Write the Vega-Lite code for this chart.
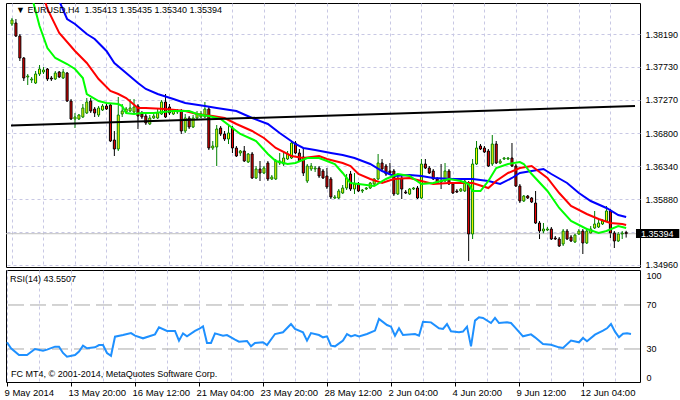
{
  "$schema": "https://vega.github.io/schema/vega-lite/v6.json",
  "padding": {"left": 2, "top": 2, "right": 0, "bottom": 0},
  "background": "white",
  "bounds": "flush",
  "spacing": 3,
  "config": {
    "font": "Liberation Sans",
    "view": {"stroke": "#000000", "strokeWidth": 1},
    "axis": {"labelFont": "Liberation Sans", "labelFontSize": 9, "labelColor": "#000000", "tickColor": "#000000", "domain": false, "gridColor": "#c8c8e4", "gridDash": [3, 3], "gridWidth": 1, "labelOverlap": false, "labelFlush": false, "labelBound": false},
    "text": {"font": "Liberation Sans", "fontSize": 9}
  },
  "datasets": {
    "bars": [
      {"i":0,"o":1.3833,"h":1.38414,"l":1.38302,"c":1.38386},
      {"i":1,"o":1.38344,"h":1.384,"l":1.38148,"c":1.38162},
      {"i":2,"o":1.38162,"h":1.3819,"l":1.37812,"c":1.37854},
      {"i":3,"o":1.37854,"h":1.37868,"l":1.37532,"c":1.37574},
      {"i":4,"o":1.37588,"h":1.3763,"l":1.37476,"c":1.37602},
      {"i":5,"o":1.37546,"h":1.37588,"l":1.37504,"c":1.3756},
      {"i":6,"o":1.37504,"h":1.37672,"l":1.3749,"c":1.3763},
      {"i":7,"o":1.3763,"h":1.37756,"l":1.37602,"c":1.377},
      {"i":8,"o":1.37658,"h":1.37728,"l":1.3763,"c":1.37686},
      {"i":9,"o":1.377,"h":1.37714,"l":1.37532,"c":1.3756},
      {"i":10,"o":1.37574,"h":1.37602,"l":1.37532,"c":1.3756},
      {"i":11,"o":1.3756,"h":1.37672,"l":1.37546,"c":1.37644},
      {"i":12,"o":1.37658,"h":1.37672,"l":1.37574,"c":1.37588},
      {"i":13,"o":1.37574,"h":1.377,"l":1.3756,"c":1.37658},
      {"i":14,"o":1.37644,"h":1.37658,"l":1.37238,"c":1.37252},
      {"i":15,"o":1.37252,"h":1.3728,"l":1.36986,"c":1.37},
      {"i":16,"o":1.37,"h":1.37084,"l":1.36874,"c":1.37028},
      {"i":17,"o":1.37,"h":1.3707,"l":1.36986,"c":1.37056},
      {"i":18,"o":1.37028,"h":1.3721,"l":1.37014,"c":1.37154},
      {"i":19,"o":1.37084,"h":1.37294,"l":1.3707,"c":1.37238},
      {"i":20,"o":1.37252,"h":1.37294,"l":1.37084,"c":1.37112},
      {"i":21,"o":1.3714,"h":1.37168,"l":1.37028,"c":1.37084},
      {"i":22,"o":1.37056,"h":1.37182,"l":1.37028,"c":1.37154},
      {"i":23,"o":1.37126,"h":1.3721,"l":1.37112,"c":1.37182},
      {"i":24,"o":1.37182,"h":1.3721,"l":1.37126,"c":1.3714},
      {"i":25,"o":1.37196,"h":1.37224,"l":1.36678,"c":1.36692},
      {"i":26,"o":1.36706,"h":1.36832,"l":1.36482,"c":1.3658},
      {"i":27,"o":1.3658,"h":1.37308,"l":1.36552,"c":1.37056},
      {"i":28,"o":1.3707,"h":1.3721,"l":1.37028,"c":1.37112},
      {"i":29,"o":1.37098,"h":1.37168,"l":1.37084,"c":1.3714},
      {"i":30,"o":1.37112,"h":1.3728,"l":1.37098,"c":1.37154},
      {"i":31,"o":1.37098,"h":1.3728,"l":1.37084,"c":1.37168},
      {"i":32,"o":1.37182,"h":1.3721,"l":1.3686,"c":1.37042},
      {"i":33,"o":1.3707,"h":1.37112,"l":1.37,"c":1.37028},
      {"i":34,"o":1.37042,"h":1.37084,"l":1.36916,"c":1.36944},
      {"i":35,"o":1.3693,"h":1.37056,"l":1.36916,"c":1.37014},
      {"i":36,"o":1.37014,"h":1.37084,"l":1.37,"c":1.37042},
      {"i":37,"o":1.37014,"h":1.3714,"l":1.37,"c":1.37084},
      {"i":38,"o":1.3707,"h":1.37266,"l":1.37056,"c":1.37238},
      {"i":39,"o":1.37238,"h":1.3735,"l":1.37014,"c":1.37028},
      {"i":40,"o":1.37168,"h":1.3721,"l":1.37056,"c":1.37084},
      {"i":41,"o":1.3707,"h":1.3714,"l":1.37056,"c":1.37112},
      {"i":42,"o":1.37098,"h":1.3714,"l":1.3707,"c":1.37112},
      {"i":43,"o":1.37112,"h":1.3714,"l":1.3679,"c":1.36832},
      {"i":44,"o":1.36832,"h":1.3707,"l":1.36804,"c":1.37014},
      {"i":45,"o":1.37014,"h":1.37042,"l":1.3686,"c":1.36888},
      {"i":46,"o":1.36888,"h":1.37056,"l":1.36874,"c":1.37014},
      {"i":47,"o":1.37014,"h":1.37112,"l":1.37,"c":1.3707},
      {"i":48,"o":1.37028,"h":1.37112,"l":1.37014,"c":1.3707},
      {"i":49,"o":1.37028,"h":1.37238,"l":1.37014,"c":1.3714},
      {"i":50,"o":1.3714,"h":1.37168,"l":1.36566,"c":1.36594},
      {"i":51,"o":1.36594,"h":1.36692,"l":1.36566,"c":1.36622},
      {"i":52,"o":1.36608,"h":1.36916,"l":1.36342,"c":1.3686},
      {"i":53,"o":1.36874,"h":1.36902,"l":1.36762,"c":1.3679},
      {"i":54,"o":1.3679,"h":1.36832,"l":1.36692,"c":1.3672},
      {"i":55,"o":1.3672,"h":1.36902,"l":1.3665,"c":1.36804},
      {"i":56,"o":1.36874,"h":1.36902,"l":1.36524,"c":1.36594},
      {"i":57,"o":1.36594,"h":1.36622,"l":1.36468,"c":1.36482},
      {"i":58,"o":1.36524,"h":1.36566,"l":1.36482,"c":1.36552},
      {"i":59,"o":1.36552,"h":1.36622,"l":1.36398,"c":1.36412},
      {"i":60,"o":1.36398,"h":1.36524,"l":1.36384,"c":1.3651},
      {"i":61,"o":1.3651,"h":1.36538,"l":1.3616,"c":1.36174},
      {"i":62,"o":1.36174,"h":1.36342,"l":1.3616,"c":1.363},
      {"i":63,"o":1.363,"h":1.36412,"l":1.36132,"c":1.36244},
      {"i":64,"o":1.36244,"h":1.36342,"l":1.3623,"c":1.36314},
      {"i":65,"o":1.36384,"h":1.36412,"l":1.36132,"c":1.3616},
      {"i":66,"o":1.3616,"h":1.36216,"l":1.36146,"c":1.36188},
      {"i":67,"o":1.3616,"h":1.3644,"l":1.36146,"c":1.36412},
      {"i":68,"o":1.36384,"h":1.36524,"l":1.36356,"c":1.36412},
      {"i":69,"o":1.3637,"h":1.36552,"l":1.36342,"c":1.36454},
      {"i":70,"o":1.3644,"h":1.36552,"l":1.36426,"c":1.3651},
      {"i":71,"o":1.36454,"h":1.36692,"l":1.3644,"c":1.36664},
      {"i":72,"o":1.36664,"h":1.36692,"l":1.3651,"c":1.36524},
      {"i":73,"o":1.36524,"h":1.3658,"l":1.36398,"c":1.36412},
      {"i":74,"o":1.36468,"h":1.36594,"l":1.36202,"c":1.36244},
      {"i":75,"o":1.36132,"h":1.3637,"l":1.36104,"c":1.36342},
      {"i":76,"o":1.363,"h":1.36384,"l":1.36272,"c":1.36342},
      {"i":77,"o":1.363,"h":1.36342,"l":1.36258,"c":1.36314},
      {"i":78,"o":1.36314,"h":1.36342,"l":1.36174,"c":1.36202},
      {"i":79,"o":1.36272,"h":1.363,"l":1.3616,"c":1.36174},
      {"i":80,"o":1.36202,"h":1.36314,"l":1.3602,"c":1.36048},
      {"i":81,"o":1.3616,"h":1.36188,"l":1.3588,"c":1.35908},
      {"i":82,"o":1.35894,"h":1.35936,"l":1.3588,"c":1.35908},
      {"i":83,"o":1.35894,"h":1.3602,"l":1.3588,"c":1.35992},
      {"i":84,"o":1.35964,"h":1.36076,"l":1.3595,"c":1.36034},
      {"i":85,"o":1.36034,"h":1.3623,"l":1.36006,"c":1.36174},
      {"i":86,"o":1.3623,"h":1.36272,"l":1.35992,"c":1.3602},
      {"i":87,"o":1.3602,"h":1.36244,"l":1.3595,"c":1.3609},
      {"i":88,"o":1.3609,"h":1.36118,"l":1.35978,"c":1.35992},
      {"i":89,"o":1.35992,"h":1.3602,"l":1.35964,"c":1.36006},
      {"i":90,"o":1.3602,"h":1.36048,"l":1.36006,"c":1.36034},
      {"i":91,"o":1.36034,"h":1.36118,"l":1.3602,"c":1.36104},
      {"i":92,"o":1.3609,"h":1.36174,"l":1.36076,"c":1.3616},
      {"i":93,"o":1.3616,"h":1.3651,"l":1.36146,"c":1.36384},
      {"i":94,"o":1.36384,"h":1.3644,"l":1.36286,"c":1.363},
      {"i":95,"o":1.36342,"h":1.3637,"l":1.36202,"c":1.3623},
      {"i":96,"o":1.36272,"h":1.36384,"l":1.36216,"c":1.36244},
      {"i":97,"o":1.36272,"h":1.363,"l":1.35922,"c":1.3595},
      {"i":98,"o":1.3595,"h":1.36202,"l":1.35936,"c":1.36174},
      {"i":99,"o":1.36174,"h":1.36202,"l":1.3588,"c":1.3602},
      {"i":100,"o":1.35978,"h":1.36006,"l":1.3595,"c":1.35964},
      {"i":101,"o":1.3595,"h":1.36034,"l":1.35936,"c":1.3602},
      {"i":102,"o":1.3602,"h":1.36048,"l":1.36006,"c":1.36034},
      {"i":103,"o":1.36034,"h":1.36062,"l":1.3588,"c":1.35894},
      {"i":104,"o":1.35894,"h":1.3644,"l":1.3588,"c":1.3637},
      {"i":105,"o":1.3637,"h":1.3644,"l":1.363,"c":1.36314},
      {"i":106,"o":1.36314,"h":1.36342,"l":1.3623,"c":1.36244},
      {"i":107,"o":1.36272,"h":1.363,"l":1.36146,"c":1.3616},
      {"i":108,"o":1.3616,"h":1.36188,"l":1.3609,"c":1.36104},
      {"i":109,"o":1.36132,"h":1.3637,"l":1.3602,"c":1.36118},
      {"i":110,"o":1.36132,"h":1.36384,"l":1.36118,"c":1.36272},
      {"i":111,"o":1.36272,"h":1.363,"l":1.36076,"c":1.3609},
      {"i":112,"o":1.3609,"h":1.36118,"l":1.3595,"c":1.35964},
      {"i":113,"o":1.35992,"h":1.3602,"l":1.35964,"c":1.35978},
      {"i":114,"o":1.35992,"h":1.36034,"l":1.35978,"c":1.3602},
      {"i":115,"o":1.35992,"h":1.36146,"l":1.35978,"c":1.36132},
      {"i":116,"o":1.36104,"h":1.36132,"l":1.35012,"c":1.3539},
      {"i":117,"o":1.3539,"h":1.3644,"l":1.3532,"c":1.3637},
      {"i":118,"o":1.3637,"h":1.36692,"l":1.36356,"c":1.36594},
      {"i":119,"o":1.36622,"h":1.3665,"l":1.36566,"c":1.3658},
      {"i":120,"o":1.36594,"h":1.36622,"l":1.36524,"c":1.36538},
      {"i":121,"o":1.36552,"h":1.3658,"l":1.36328,"c":1.36342},
      {"i":122,"o":1.3637,"h":1.36776,"l":1.36342,"c":1.3665},
      {"i":123,"o":1.3665,"h":1.36692,"l":1.3637,"c":1.36384},
      {"i":124,"o":1.36384,"h":1.3644,"l":1.3637,"c":1.36412},
      {"i":125,"o":1.3644,"h":1.36468,"l":1.36426,"c":1.36454},
      {"i":126,"o":1.3644,"h":1.36468,"l":1.36426,"c":1.36454},
      {"i":127,"o":1.36454,"h":1.36664,"l":1.36328,"c":1.36342},
      {"i":128,"o":1.36342,"h":1.3637,"l":1.36048,"c":1.36062},
      {"i":129,"o":1.36062,"h":1.3609,"l":1.35824,"c":1.35852},
      {"i":130,"o":1.35852,"h":1.35936,"l":1.35838,"c":1.35922},
      {"i":131,"o":1.35922,"h":1.35936,"l":1.3588,"c":1.35894},
      {"i":132,"o":1.35894,"h":1.35908,"l":1.35824,"c":1.35838},
      {"i":133,"o":1.35824,"h":1.35992,"l":1.3553,"c":1.35544},
      {"i":134,"o":1.35544,"h":1.35572,"l":1.3532,"c":1.35432},
      {"i":135,"o":1.35432,"h":1.35544,"l":1.3539,"c":1.3546},
      {"i":136,"o":1.35446,"h":1.35488,"l":1.35432,"c":1.3546},
      {"i":137,"o":1.3546,"h":1.35488,"l":1.35306,"c":1.3532},
      {"i":138,"o":1.35334,"h":1.35362,"l":1.35306,"c":1.3532},
      {"i":139,"o":1.3532,"h":1.35348,"l":1.35208,"c":1.35222},
      {"i":140,"o":1.3525,"h":1.3546,"l":1.35222,"c":1.35432},
      {"i":141,"o":1.35432,"h":1.3546,"l":1.35306,"c":1.3532},
      {"i":142,"o":1.35348,"h":1.35376,"l":1.35278,"c":1.35292},
      {"i":143,"o":1.35278,"h":1.35404,"l":1.35264,"c":1.35376},
      {"i":144,"o":1.3539,"h":1.3546,"l":1.35376,"c":1.35432},
      {"i":145,"o":1.35432,"h":1.3546,"l":1.3511,"c":1.35264},
      {"i":146,"o":1.35264,"h":1.35474,"l":1.3525,"c":1.35432},
      {"i":147,"o":1.35404,"h":1.35502,"l":1.3539,"c":1.3546},
      {"i":148,"o":1.35474,"h":1.35712,"l":1.3546,"c":1.3553},
      {"i":149,"o":1.35488,"h":1.356,"l":1.35474,"c":1.35544},
      {"i":150,"o":1.3553,"h":1.356,"l":1.35516,"c":1.35572},
      {"i":151,"o":1.35572,"h":1.35782,"l":1.35558,"c":1.35712},
      {"i":152,"o":1.35712,"h":1.3574,"l":1.35334,"c":1.35404},
      {"i":153,"o":1.35404,"h":1.35432,"l":1.35194,"c":1.35292},
      {"i":154,"o":1.35292,"h":1.35418,"l":1.35278,"c":1.3539},
      {"i":155,"o":1.3539,"h":1.35432,"l":1.3532,"c":1.35404},
      {"i":156,"o":1.35413,"h":1.35435,"l":1.3534,"c":1.35394}
    ],
    "ma": [
      {"m":"b","i":11,"v":1.38792},{"m":"b","i":12,"v":1.38652},{"m":"b","i":14,"v":1.384},{"m":"b","i":16,"v":1.3833},{"m":"b","i":19,"v":1.3819},{"m":"b","i":21,"v":1.3812},{"m":"b","i":24,"v":1.37952},{"m":"b","i":26,"v":1.37784},{"m":"b","i":29,"v":1.37644},{"m":"b","i":32,"v":1.37504},{"m":"b","i":34,"v":1.3742},{"m":"b","i":37,"v":1.3735},{"m":"b","i":41,"v":1.3728},{"m":"b","i":44,"v":1.37224},{"m":"b","i":49,"v":1.37182},{"m":"b","i":52,"v":1.37154},{"m":"b","i":57,"v":1.37112},{"m":"b","i":61,"v":1.37014},{"m":"b","i":65,"v":1.3693},{"m":"b","i":68,"v":1.36804},{"m":"b","i":72,"v":1.3665},{"m":"b","i":74,"v":1.36594},{"m":"b","i":77,"v":1.36566},{"m":"b","i":81,"v":1.36524},{"m":"b","i":84,"v":1.36496},{"m":"b","i":87,"v":1.36454},{"m":"b","i":91,"v":1.3637},{"m":"b","i":94,"v":1.36272},{"m":"b","i":97,"v":1.36202},{"m":"b","i":101,"v":1.36216},{"m":"b","i":104,"v":1.36202},{"m":"b","i":107,"v":1.36174},{"m":"b","i":112,"v":1.3616},{"m":"b","i":117,"v":1.3616},{"m":"b","i":121,"v":1.36132},{"m":"b","i":124,"v":1.3609},{"m":"b","i":127,"v":1.36174},{"m":"b","i":129,"v":1.36244},{"m":"b","i":132,"v":1.36272},{"m":"b","i":135,"v":1.363},{"m":"b","i":137,"v":1.3623},{"m":"b","i":141,"v":1.36104},{"m":"b","i":144,"v":1.35964},{"m":"b","i":147,"v":1.35852},{"m":"b","i":151,"v":1.35754},{"m":"b","i":154,"v":1.35656},{"m":"b","i":156,"v":1.35628},
      {"m":"r","i":8,"v":1.38722},{"m":"r","i":9,"v":1.3854},{"m":"r","i":12,"v":1.38204},{"m":"r","i":16,"v":1.37952},{"m":"r","i":19,"v":1.37784},{"m":"r","i":22,"v":1.3756},{"m":"r","i":25,"v":1.37392},{"m":"r","i":27,"v":1.3735},{"m":"r","i":29,"v":1.37294},{"m":"r","i":32,"v":1.37154},{"m":"r","i":34,"v":1.37154},{"m":"r","i":39,"v":1.3714},{"m":"r","i":44,"v":1.37112},{"m":"r","i":47,"v":1.3707},{"m":"r","i":51,"v":1.37042},{"m":"r","i":54,"v":1.37014},{"m":"r","i":57,"v":1.3693},{"m":"r","i":61,"v":1.36832},{"m":"r","i":64,"v":1.36734},{"m":"r","i":67,"v":1.36594},{"m":"r","i":71,"v":1.36482},{"m":"r","i":74,"v":1.36454},{"m":"r","i":78,"v":1.36482},{"m":"r","i":80,"v":1.3644},{"m":"r","i":82,"v":1.36412},{"m":"r","i":84,"v":1.36384},{"m":"r","i":86,"v":1.36342},{"m":"r","i":88,"v":1.3623},{"m":"r","i":91,"v":1.3616},{"m":"r","i":94,"v":1.36104},{"m":"r","i":97,"v":1.3616},{"m":"r","i":101,"v":1.36174},{"m":"r","i":104,"v":1.36132},{"m":"r","i":107,"v":1.3609},{"m":"r","i":111,"v":1.36104},{"m":"r","i":114,"v":1.36104},{"m":"r","i":117,"v":1.36104},{"m":"r","i":121,"v":1.36034},{"m":"r","i":123,"v":1.36132},{"m":"r","i":126,"v":1.36244},{"m":"r","i":129,"v":1.36314},{"m":"r","i":132,"v":1.36342},{"m":"r","i":136,"v":1.36174},{"m":"r","i":139,"v":1.35964},{"m":"r","i":142,"v":1.35782},{"m":"r","i":146,"v":1.3567},{"m":"r","i":149,"v":1.356},{"m":"r","i":152,"v":1.35544},{"m":"r","i":155,"v":1.3553},{"m":"r","i":156,"v":1.35516},
      {"m":"g","i":5,"v":1.38722},{"m":"g","i":7,"v":1.38302},{"m":"g","i":9,"v":1.37994},{"m":"g","i":11,"v":1.37854},{"m":"g","i":14,"v":1.3777},{"m":"g","i":16,"v":1.377},{"m":"g","i":18,"v":1.37574},{"m":"g","i":19,"v":1.3735},{"m":"g","i":22,"v":1.37252},{"m":"g","i":24,"v":1.37224},{"m":"g","i":27,"v":1.3721},{"m":"g","i":28,"v":1.37182},{"m":"g","i":29,"v":1.37084},{"m":"g","i":31,"v":1.3707},{"m":"g","i":33,"v":1.37084},{"m":"g","i":36,"v":1.37084},{"m":"g","i":41,"v":1.37112},{"m":"g","i":45,"v":1.37112},{"m":"g","i":47,"v":1.3707},{"m":"g","i":50,"v":1.37042},{"m":"g","i":53,"v":1.37},{"m":"g","i":56,"v":1.36874},{"m":"g","i":58,"v":1.3679},{"m":"g","i":62,"v":1.36692},{"m":"g","i":65,"v":1.3651},{"m":"g","i":67,"v":1.36412},{"m":"g","i":70,"v":1.3637},{"m":"g","i":72,"v":1.36384},{"m":"g","i":75,"v":1.36454},{"m":"g","i":78,"v":1.36454},{"m":"g","i":80,"v":1.36412},{"m":"g","i":82,"v":1.3637},{"m":"g","i":84,"v":1.36244},{"m":"g","i":86,"v":1.36104},{"m":"g","i":88,"v":1.3609},{"m":"g","i":92,"v":1.36062},{"m":"g","i":95,"v":1.3616},{"m":"g","i":98,"v":1.3623},{"m":"g","i":101,"v":1.36202},{"m":"g","i":104,"v":1.3609},{"m":"g","i":107,"v":1.36104},{"m":"g","i":111,"v":1.3616},{"m":"g","i":114,"v":1.36132},{"m":"g","i":116,"v":1.3609},{"m":"g","i":117,"v":1.35992},{"m":"g","i":119,"v":1.35992},{"m":"g","i":121,"v":1.36132},{"m":"g","i":123,"v":1.36314},{"m":"g","i":126,"v":1.3637},{"m":"g","i":129,"v":1.36398},{"m":"g","i":130,"v":1.3637},{"m":"g","i":132,"v":1.3623},{"m":"g","i":136,"v":1.35992},{"m":"g","i":139,"v":1.35754},{"m":"g","i":142,"v":1.35572},{"m":"g","i":146,"v":1.3546},{"m":"g","i":149,"v":1.35404},{"m":"g","i":151,"v":1.35432},{"m":"g","i":154,"v":1.35502},{"m":"g","i":156,"v":1.35474}
    ],
    "trend": [
      {"i":-0.25,"v":1.36909},
      {"i":158.25,"v":1.37182}
    ],
    "rsi": [
      {"i":0,"v":36.1},{"i":1,"v":30.6},{"i":3,"v":24.5},{"i":5,"v":24.5},{"i":7,"v":30.0},{"i":9,"v":28.5},{"i":10,"v":29.4},{"i":12,"v":32.1},{"i":13,"v":32.1},{"i":14,"v":26.4},{"i":15,"v":23.0},{"i":17,"v":24.5},{"i":18,"v":27.6},{"i":19,"v":33.0},{"i":20,"v":30.6},{"i":22,"v":31.5},{"i":23,"v":33.6},{"i":24,"v":33.6},{"i":25,"v":26.4},{"i":26,"v":23.9},{"i":27,"v":41.2},{"i":29,"v":42.7},{"i":31,"v":44.5},{"i":32,"v":42.1},{"i":34,"v":39.7},{"i":37,"v":43.3},{"i":38,"v":49.7},{"i":40,"v":46.4},{"i":42,"v":46.4},{"i":43,"v":37.6},{"i":44,"v":44.2},{"i":45,"v":41.5},{"i":47,"v":46.4},{"i":48,"v":48.2},{"i":49,"v":50.6},{"i":50,"v":35.5},{"i":51,"v":35.5},{"i":52,"v":44.2},{"i":54,"v":42.1},{"i":55,"v":42.7},{"i":57,"v":38.5},{"i":58,"v":36.7},{"i":60,"v":37.3},{"i":61,"v":32.4},{"i":62,"v":35.5},{"i":64,"v":36.1},{"i":65,"v":33.6},{"i":67,"v":43.6},{"i":69,"v":45.2},{"i":71,"v":52.7},{"i":72,"v":48.2},{"i":74,"v":45.2},{"i":75,"v":37.6},{"i":76,"v":44.5},{"i":78,"v":42.7},{"i":79,"v":40.6},{"i":80,"v":41.5},{"i":81,"v":33.0},{"i":82,"v":32.4},{"i":84,"v":37.6},{"i":85,"v":43.6},{"i":86,"v":41.5},{"i":87,"v":42.7},{"i":88,"v":41.5},{"i":90,"v":43.6},{"i":92,"v":46.7},{"i":93,"v":57.3},{"i":95,"v":51.8},{"i":96,"v":50.3},{"i":97,"v":42.1},{"i":98,"v":48.8},{"i":99,"v":42.7},{"i":102,"v":43.6},{"i":103,"v":42.1},{"i":104,"v":54.8},{"i":106,"v":54.2},{"i":108,"v":48.8},{"i":109,"v":48.2},{"i":110,"v":52.7},{"i":111,"v":46.1},{"i":113,"v":45.2},{"i":114,"v":45.8},{"i":115,"v":50.3},{"i":116,"v":32.4},{"i":117,"v":55.8},{"i":118,"v":58.8},{"i":119,"v":58.2},{"i":121,"v":53.6},{"i":122,"v":58.2},{"i":123,"v":53.6},{"i":125,"v":54.2},{"i":126,"v":53.6},{"i":127,"v":49.7},{"i":129,"v":41.5},{"i":131,"v":43.3},{"i":132,"v":40.6},{"i":134,"v":34.5},{"i":136,"v":33.9},{"i":138,"v":31.5},{"i":139,"v":30.9},{"i":141,"v":37.6},{"i":143,"v":36.1},{"i":144,"v":40.0},{"i":145,"v":37.0},{"i":147,"v":43.0},{"i":149,"v":46.7},{"i":150,"v":48.8},{"i":151,"v":52.7},{"i":152,"v":45.8},{"i":153,"v":40.6},{"i":154,"v":43.9},{"i":155,"v":44.2},{"i":156,"v":43.55}
    ],
    "levels": [{"lv":70},{"lv":30}]
  },
  "vconcat": [
    {
      "width": 634,
      "height": 264,
      "resolve": {"axis": {"x": "independent", "y": "independent"}},
      "layer": [
        {
          "data": {"name": "bars"},
          "mark": {"type": "rule", "strokeWidth": 1},
          "encoding": {
            "x": {"field": "i", "type": "quantitative", "scale": {"domain": [-0.25, 158.25], "nice": false, "zero": false},
                  "axis": {"title": null, "values": [0,8,16,24,32,40,48,56,64,72,80,88,96,104,112,120,128,136,144,152], "grid": true, "labels": false, "ticks": false, "domain": false}},
            "y": {"field": "l", "type": "quantitative", "scale": {"domain": [1.34928, 1.38624], "nice": false, "zero": false},
                  "axis": {"title": null, "orient": "right", "values": [1.3496,1.3542,1.3588,1.3634,1.368,1.3727,1.3773,1.3819], "grid": true, "ticks": false, "labelPadding": 5, "labelOverlap": false,
                           "labelExpr": "abs(datum.value - 1.3542) < 0.00001 ? '' : format(datum.value, '.5f')"}},
            "y2": {"field": "h"},
            "color": {"condition": {"test": "datum.c >= datum.o", "value": "#008000"}, "value": "#000000"}
          }
        },
        {
          "data": {"values": [{}]},
          "mark": {"type": "rule", "color": "#c0c0c0", "strokeWidth": 1},
          "encoding": {
            "y": {"datum": 1.35394, "type": "quantitative", "axis": null}
          }
        },
        {
          "data": {"name": "bars"},
          "mark": {"type": "bar", "width": 2, "strokeWidth": 1},
          "encoding": {
            "x": {"field": "i", "type": "quantitative", "axis": null},
            "y": {"field": "o", "type": "quantitative", "axis": null},
            "y2": {"field": "c"},
            "fill": {"condition": {"test": "datum.c >= datum.o", "value": "#ffff00"}, "value": "#ff0000"},
            "stroke": {"condition": {"test": "datum.c >= datum.o", "value": "#008000"}, "value": "#000000"}
          }
        },
        {
          "data": {"name": "ma"},
          "mark": {"type": "line", "strokeWidth": 2, "clip": true},
          "encoding": {
            "x": {"field": "i", "type": "quantitative", "axis": null},
            "y": {"field": "v", "type": "quantitative", "axis": null},
            "color": {"field": "m", "type": "nominal", "scale": {"domain": ["b", "r", "g"], "range": ["#0000ff", "#ff0000", "#00ff00"]}, "legend": null}
          }
        },
        {
          "data": {"name": "trend"},
          "mark": {"type": "line", "strokeWidth": 2, "color": "#000000", "clip": true},
          "encoding": {
            "x": {"field": "i", "type": "quantitative", "axis": null},
            "y": {"field": "v", "type": "quantitative", "axis": null}
          }
        },
        {
          "data": {"values": [{}]},
          "mark": {"type": "rect", "color": "#000000", "clip": false},
          "encoding": {
            "x": {"datum": 158.5, "type": "quantitative", "axis": null},
            "x2": {"datum": 169.5},
            "y": {"datum": 1.3546, "type": "quantitative", "axis": null},
            "y2": {"datum": 1.35334}
          }
        },
        {
          "data": {"values": [{}]},
          "mark": {"type": "text", "color": "#ffffff", "align": "left", "baseline": "middle", "dx": 5, "clip": false},
          "encoding": {
            "x": {"datum": 158.5, "type": "quantitative", "axis": null},
            "y": {"datum": 1.35394, "type": "quantitative", "axis": null},
            "text": {"value": "1.35394"}
          }
        },
        {
          "data": {"values": [{}]},
          "mark": {"type": "text", "color": "#000000", "align": "left", "baseline": "top", "dx": 5, "dy": 3},
          "encoding": {
            "x": {"datum": -0.25, "type": "quantitative", "axis": null},
            "y": {"datum": 1.38624, "type": "quantitative", "axis": null},
            "text": {"value": "▼ EURUSD,H4\u00a0 1.35413 1.35435 1.35340 1.35394"}
          }
        }
      ]
    },
    {
      "width": 634,
      "height": 112,
      "resolve": {"axis": {"x": "independent", "y": "independent"}},
      "layer": [
        {
          "data": {"name": "levels"},
          "mark": {"type": "rule", "color": "#a8a8a8", "strokeWidth": 1, "strokeDash": [16, 6]},
          "encoding": {
            "y": {"field": "lv", "type": "quantitative", "scale": {"domain": [0, 101.8], "nice": false, "zero": false},
                  "axis": {"title": null, "orient": "right", "values": [0, 30, 70, 100], "grid": false, "ticks": false, "labelPadding": 6, "labelOverlap": false,
                           "labelBaseline": {"condition": [{"test": "datum.value == 100", "value": "top"}, {"test": "datum.value == 0", "value": "bottom"}], "value": "middle"}}}
          }
        },
        {
          "data": {"name": "rsi"},
          "mark": {"type": "line", "strokeWidth": 2, "color": "#1e90ff"},
          "encoding": {
            "x": {"field": "i", "type": "quantitative", "scale": {"domain": [-0.25, 158.25], "nice": false, "zero": false},
                  "axis": {"title": null, "orient": "bottom", "values": [0,8,16,24,32,40,48,56,64,72,80,88,96,104,112,120,128,136,144,152], "grid": true, "tickSize": 4, "labelPadding": 1, "labelAlign": "left", "labelOffset": -3, "labelFontSize": 9.5, "labelOverlap": false,
                           "tickOpacity": {"condition": {"test": "datum.value % 16 == 0", "value": 1}, "value": 0},
                           "labelExpr": "datum.value % 16 == 0 ? ['9 May 2014','13 May 20:00','16 May 12:00','21 May 04:00','23 May 20:00','28 May 12:00','2 Jun 04:00','4 Jun 20:00','9 Jun 12:00','12 Jun 04:00'][datum.value / 16] : ''"}},
            "y": {"field": "v", "type": "quantitative", "axis": null}
          }
        },
        {
          "data": {"values": [{}]},
          "mark": {"type": "text", "color": "#000000", "align": "left", "baseline": "top", "dx": 4, "dy": 5},
          "encoding": {
            "x": {"datum": -0.25, "type": "quantitative", "axis": null},
            "y": {"datum": 101.8, "type": "quantitative", "axis": null},
            "text": {"value": "RSI(14) 43.5507"}
          }
        },
        {
          "data": {"values": [{}]},
          "mark": {"type": "text", "color": "#000000", "align": "left", "baseline": "bottom", "dx": 5, "dy": -3},
          "encoding": {
            "x": {"datum": -0.25, "type": "quantitative", "axis": null},
            "y": {"datum": 0, "type": "quantitative", "axis": null},
            "text": {"value": "FC MT4, © 2001-2014, MetaQuotes Software Corp."}
          }
        }
      ]
    }
  ]
}
